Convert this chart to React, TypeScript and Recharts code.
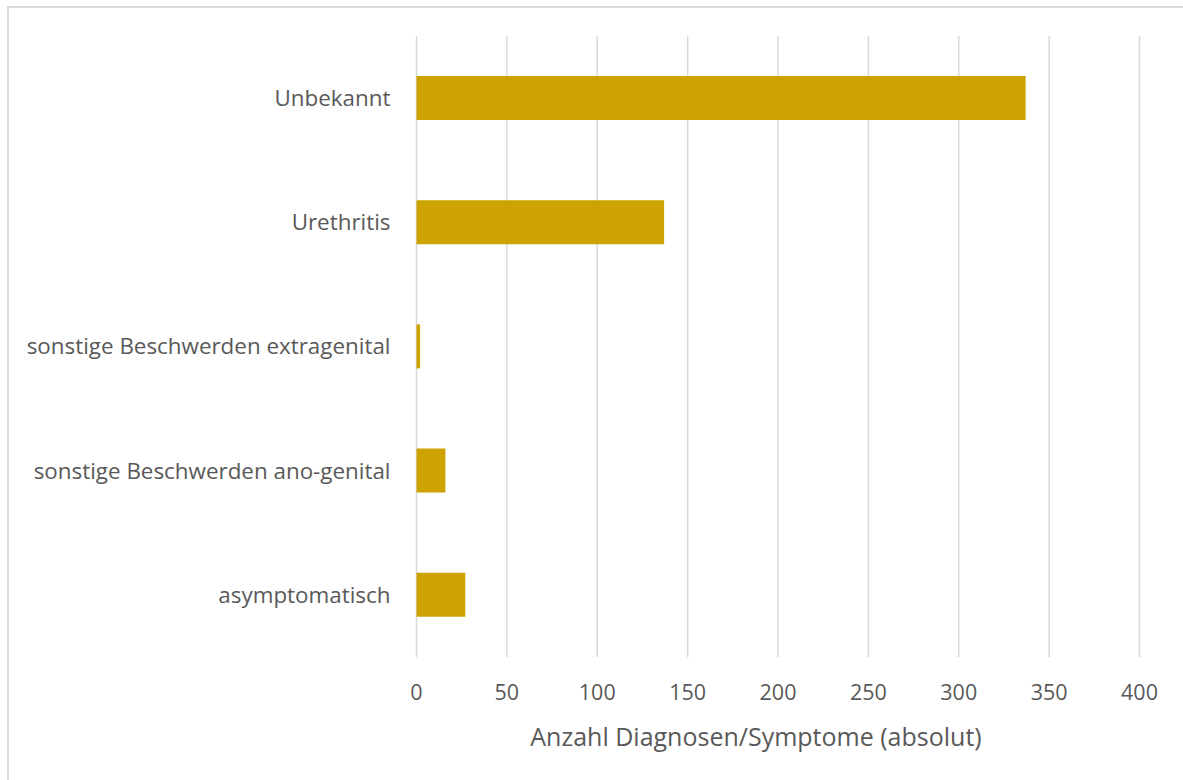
import React from 'react';
import { BarChart, Bar, XAxis, YAxis, CartesianGrid } from 'recharts';

// Symptom categories, listed top to bottom
const categories = [
  'Unbekannt',
  'Urethritis',
  'sonstige Beschwerden extragenital',
  'sonstige Beschwerden ano-genital',
  'asymptomatisch',
];
const counts = [337, 137, 2, 16, 27];
const xTicks = [0, 50, 100, 150, 200, 250, 300, 350, 400];

const data = categories.map((name, i) => ({ name, value: counts[i] }));

const FONT = '"Open Sans", "Noto Sans", sans-serif';
const TEXT = '#595959';

export default function App() {
  return (
    <div style={{ width: 1175, height: 772, fontFamily: FONT }}>
      {/* chart frame, running past the right and bottom edges of the window */}
      <div
        style={{
          position: 'fixed',
          left: 7,
          top: 6,
          width: 1400,
          height: 1000,
          borderTop: '2px solid #d9d9d9',
          borderLeft: '2px solid #d9d9d9',
          boxSizing: 'border-box',
          pointerEvents: 'none',
          zIndex: 10,
        }}
      />
      <BarChart
        width={1175}
        height={772}
        data={data}
        layout="vertical"
        margin={{ top: 28, right: 43.5, bottom: 0, left: 0 }}
      >
        <CartesianGrid horizontal={false} vertical stroke="#d9d9d9" strokeWidth={1.5} />
        <XAxis
          type="number"
          domain={[0, 400]}
          ticks={xTicks}
          axisLine={false}
          tickLine={false}
          tickSize={0}
          tickMargin={28}
          height={123}
          tick={{ fill: TEXT, fontSize: 21.5, fontFamily: FONT }}
          label={{
            value: 'Anzahl Diagnosen/Symptome (absolut)',
            position: 'insideBottom',
            offset: 34,
            dx: -22,
            fill: TEXT,
            fontSize: 25,
            fontFamily: FONT,
          }}
        />
        <YAxis
          type="category"
          dataKey="name"
          width={408.5}
          axisLine={false}
          tickLine={false}
          tickSize={0}
          tickMargin={26}
          tick={{ fill: TEXT, fontSize: 22.4, fontFamily: FONT }}
        />
        <Bar dataKey="value" fill="#cca300" barSize={44} isAnimationActive={false} />
      </BarChart>
    </div>
  );
}
